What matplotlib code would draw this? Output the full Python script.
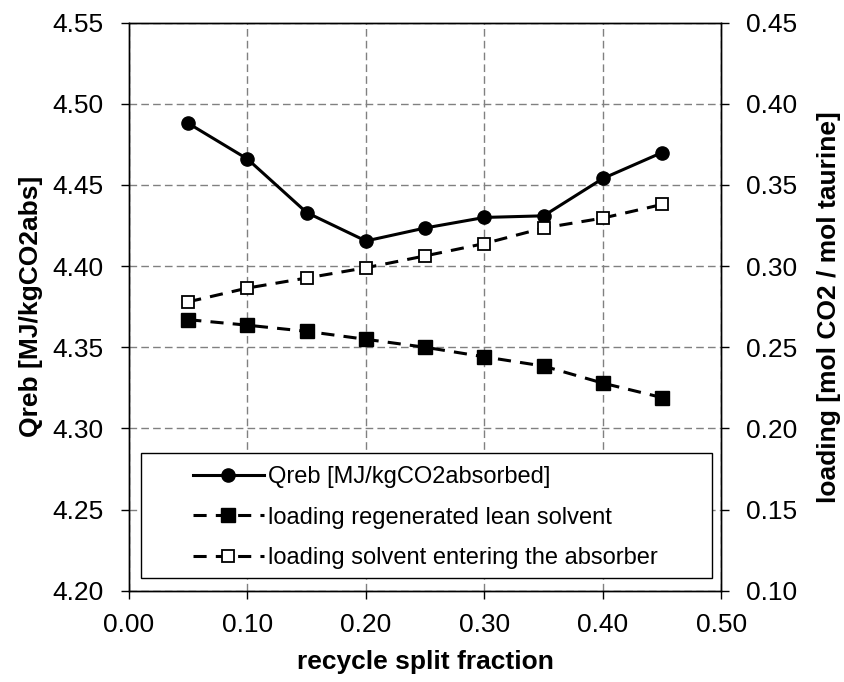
import numpy as np
import matplotlib
matplotlib.use("Agg")
import matplotlib.pyplot as plt
from matplotlib.patches import Rectangle

# ── data ───────────────────────────────────────────────────
split_fraction = [0.05, 0.10, 0.15, 0.20, 0.25, 0.30, 0.35, 0.40, 0.45]
qreb = [4.488, 4.466, 4.433, 4.4155, 4.4235, 4.430, 4.431, 4.454, 4.470]
loading_lean = [0.267, 0.2636, 0.2598, 0.2549, 0.250, 0.2441, 0.2384, 0.2279, 0.219]
loading_absorber = [0.278, 0.2865, 0.2927, 0.299, 0.3063, 0.3139, 0.3235, 0.3296, 0.338]

x_ticks = [0.00, 0.10, 0.20, 0.30, 0.40, 0.50]
qreb_ticks = [4.20, 4.25, 4.30, 4.35, 4.40, 4.45, 4.50, 4.55]
loading_ticks = [0.10, 0.15, 0.20, 0.25, 0.30, 0.35, 0.40, 0.45]

labels = ["Qreb [MJ/kgCO2absorbed]",
          "loading regenerated lean solvent",
          "loading solvent entering the absorber"]

# ── style ──────────────────────────────────────────────────
plt.rcParams.update({
    "font.family": ["Liberation Sans", "DejaVu Sans"],
    "font.size": 19,
    "axes.linewidth": 1.0,
    "xtick.direction": "out", "ytick.direction": "out",
    "xtick.major.size": 5.5, "ytick.major.size": 5.5,
    "xtick.major.width": 1.0, "ytick.major.width": 1.0,
})

GRID = "#808080"
LW = 2.2
MS = 9.5
DASH = (4.3, 3.0)

fig = plt.figure(figsize=(8.45, 6.82), dpi=100)
ax = fig.add_axes([0.1527, 0.1339, 0.7009, 0.8328])
ax2 = ax.twinx()

# ── Qreb on the left axis ──────────────────────────────────
h1, = ax.plot(split_fraction, qreb, "-", color="black", lw=LW,
              marker="o", ms=MS, mfc="black", mec="black", zorder=3)

# ── loadings on the right axis ─────────────────────────────
h2, = ax2.plot(split_fraction, loading_lean, color="black", lw=LW,
               dashes=DASH, marker="s", ms=MS, mfc="black", mec="black")
h3, = ax2.plot(split_fraction, loading_absorber, color="black", lw=LW,
               dashes=DASH, marker="s", ms=MS - 0.5, mfc="white",
               mec="black", mew=1.3)

ax.set_xlim(0.0, 0.5)
ax.set_ylim(4.20, 4.55)
ax2.set_ylim(0.10, 0.45)

ax.set_xticks(x_ticks)
ax.set_xticklabels([f"{v:.2f}" for v in x_ticks])
ax.set_yticks(qreb_ticks)
ax.set_yticklabels([f"{v:.2f}" for v in qreb_ticks])
ax2.set_yticks(loading_ticks)
ax2.set_yticklabels([f"{v:.2f}" for v in loading_ticks])

ax.tick_params(axis="x", pad=10.5)
ax.tick_params(axis="y", pad=13)
ax2.tick_params(axis="y", pad=12)

ax.grid(True, color=GRID, lw=1.0, linestyle=(0, (5.5, 3)))
ax.set_axisbelow(True)

# ── axis titles ────────────────────────────────────────────
fig.text(0.503, 0.029, "recycle split fraction", ha="center", va="center",
         fontweight="bold", fontsize=19)
fig.text(31 / 845, 0.5503, "Qreb [MJ/kgCO2abs]", rotation=90,
         ha="center", va="center", fontweight="bold", fontsize=19)
fig.text(829 / 845, 0.5503, "loading [mol CO2 / mol taurine]", rotation=90,
         ha="center", va="center", fontweight="bold", fontsize=19)

# ── legend with its own white box ──────────────────────────
box = Rectangle((0.0203, 0.0224), 0.9637, 0.22, transform=ax2.transAxes,
                facecolor="white", edgecolor="black", lw=1.0, zorder=4)
ax2.add_patch(box)
leg = ax2.legend([h1, h2, h3], labels, loc="center left",
                 bbox_to_anchor=(0.1075, 0.1285), frameon=False,
                 fontsize=17, borderpad=0, borderaxespad=0,
                 handlelength=3.0, handletextpad=0.2, labelspacing=0.78)
leg.set_zorder(5)

fig.savefig("out.png", dpi=100, facecolor="white")
